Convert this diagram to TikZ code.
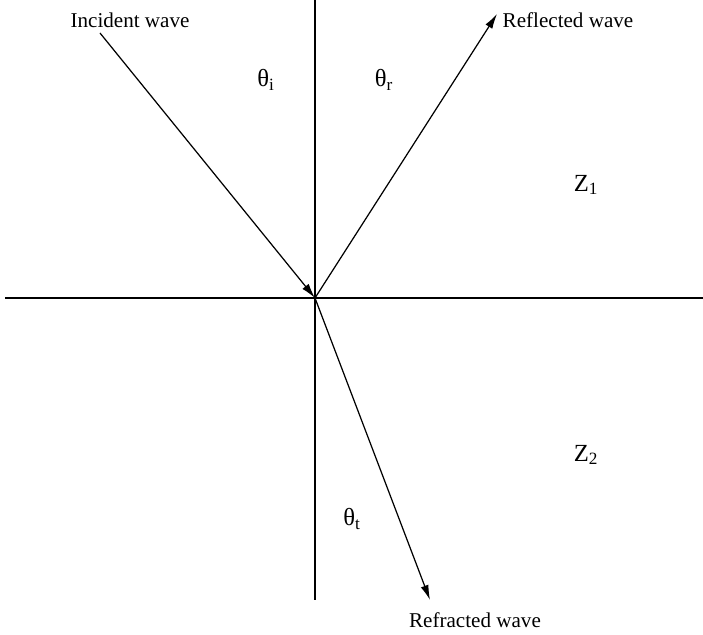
\documentclass[tikz,border=0pt]{standalone}
\usepackage{fontspec}
\setmainfont{Liberation Serif}
\usetikzlibrary{arrows.meta,positioning}

\begin{document}
\begin{tikzpicture}[x=0.02cm, y=-0.02cm, font=\fontsize{12}{14}\selectfont,
      axis/.style={line width=0.7pt},
      wave/.style={line width=0.7pt, -{Latex[length=8.5pt,width=4.6pt]}},
      lbl/.style={inner sep=1pt},
      ang/.style={inner sep=1pt, font=\fontsize{14}{16}\selectfont}]
    \useasboundingbox (0,0) rectangle (703,635);
    % boundary and normal
    \coordinate (o) at (315,298);
    \coordinate (hl) at (5,298);
    \coordinate (hr) at (703,298);
    \coordinate (vt) at (315,0);
    \coordinate (vb) at (315,600);
    \draw[axis] (hl)--(hr);
    \draw[axis] (vt)--(vb);
    % waves
    \coordinate (inc) at (100,33);
    \coordinate (refl) at (497,14);
    \coordinate (refr) at (430,600);
    \draw[wave] (inc)--(o);
    \draw[wave] (o)--(refl);
    \draw[wave] (o)--(refr);
    % labels
    \node[lbl] (incl)  at (130,20)  {Incident wave};
    \node[lbl] (refll) at (568,20)  {Reflected wave};
    \node[lbl] (refrl) at (475,620) {Refracted wave};
    \node[ang] (thi) at (266,80)  {θ\textsubscript{i}};
    \node[ang] (thr) at (384,80)  {θ\textsubscript{r}};
    \node[ang] (tht) at (352,519) {θ\textsubscript{t}};
    \node[ang] (za) at (586,185) {Z\textsubscript{1}};
    \node[ang] (zb) at (586,455) {Z\textsubscript{2}};
  \end{tikzpicture}
\end{document}
